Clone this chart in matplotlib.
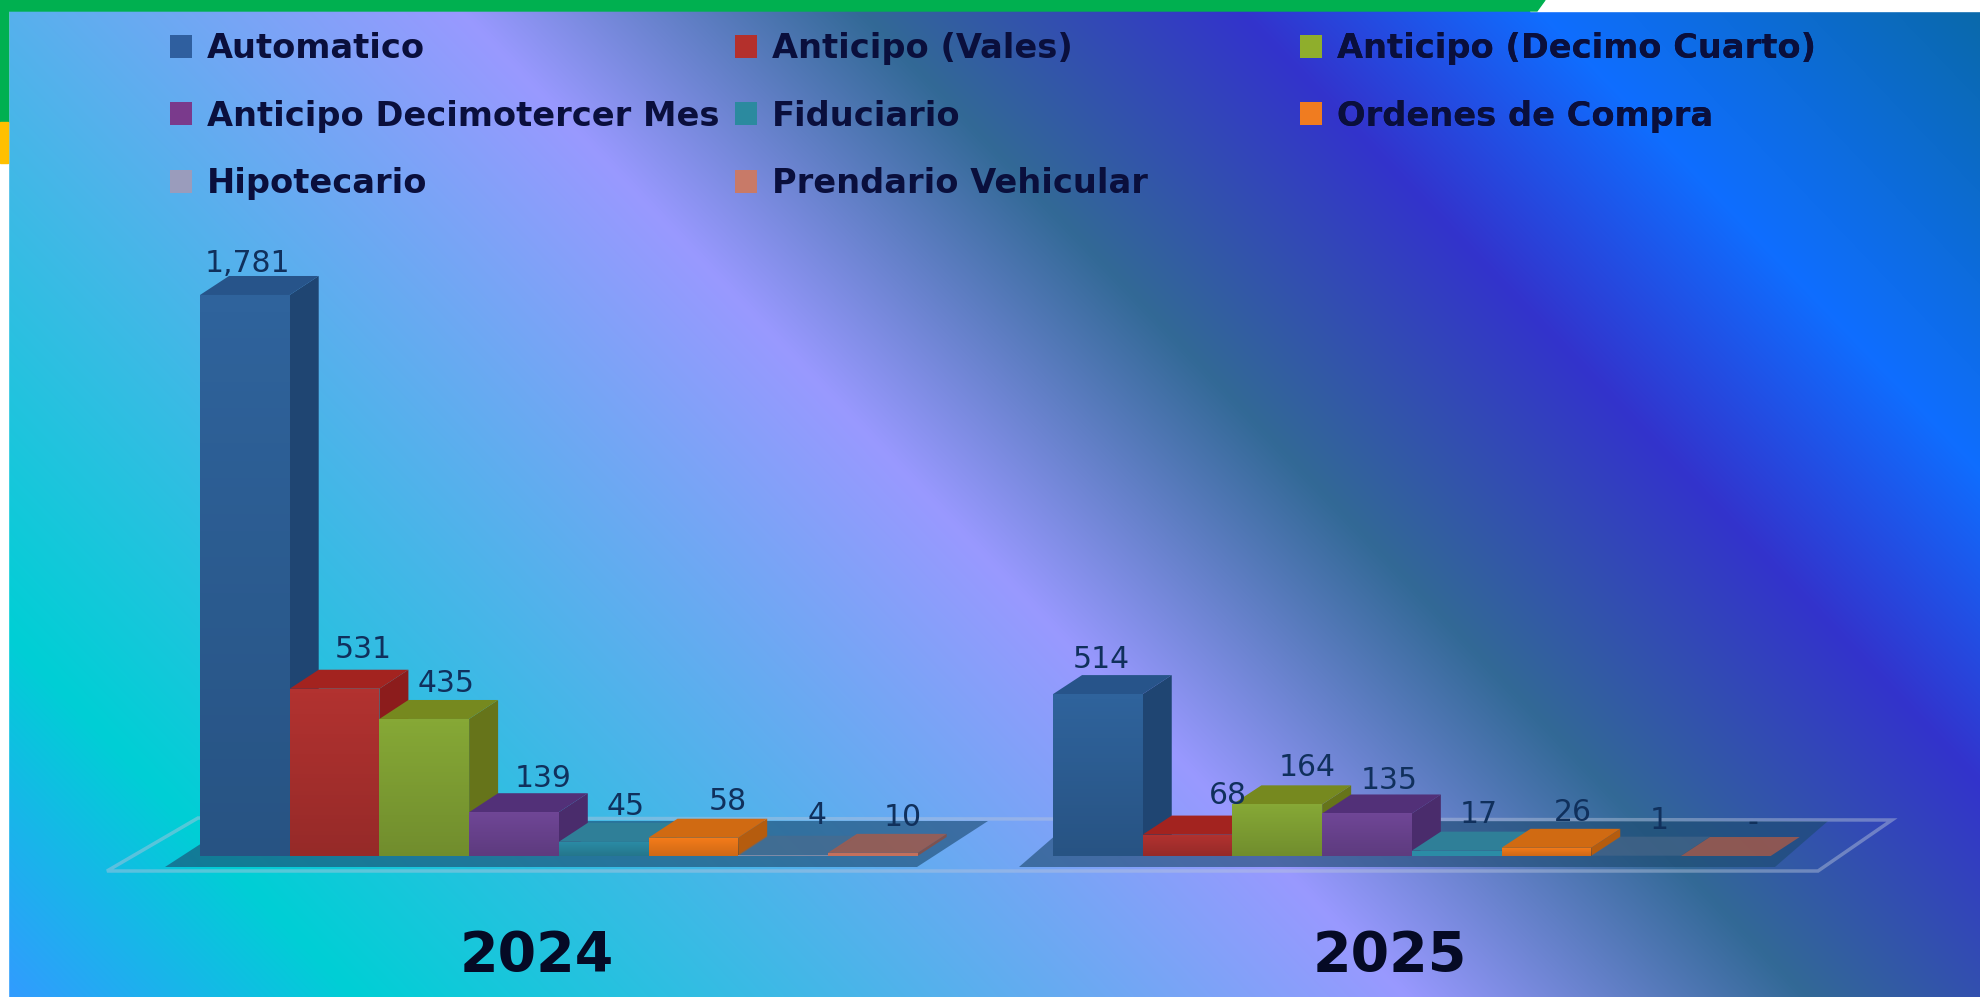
import numpy as np
import matplotlib
matplotlib.use("Agg")
import matplotlib.pyplot as plt
from matplotlib.patches import Polygon, Rectangle, Patch

# ---------- data ----------
years = ["2024", "2025"]
series = ["Automatico", "Anticipo (Vales)", "Anticipo (Decimo Cuarto)",
          "Anticipo Decimotercer Mes", "Fiduciario", "Ordenes de Compra",
          "Hipotecario", "Prendario Vehicular"]
values_2024 = [1781, 531, 435, 139, 45, 58, 4, 10]
values_2025 = [514, 68, 164, 135, 17, 26, 1, 0]

# ---------- style ----------
front = ["#2f639c", "#b23230", "#86a836", "#6f4696", "#2b8ca6", "#f57c1a", "#7f8aa6", "#c4705c"]
top = ["#27548a", "#a3231f", "#76891f", "#523078", "#2f7f98", "#d06a12", "#4f6a8a", "#a85a48"]
side = ["#1f4572", "#8c1c1c", "#66741a", "#4a2c6c", "#256f85", "#b55c0e", "#46607e", "#8f4c3c"]
legend_col = ["#2f5f9f", "#b4302c", "#8fae2c", "#7a3a8c", "#2b8a9f", "#f07c20", "#9a9cbc", "#c87a68"]
top_alpha = [1, 1, 1, 1, 1, 1, .55, .8]
label_dx = [[3, 29, 22, 29, 22, 34, 34, 30], [3, 40, 30, 22, 22, 26, 23, 27]]
label_dy = [[12, 20, 16, 15, 16, 17, 20, 16], [16, 20, 18, 14, 17, 16, 16, 14]]
floor_spans = [(165, 917, 71), (1019, 1775, 53)]
W, H = 1980, 997
PX_STEP, PX_UNIT = 89.7, 0.315
X0_PX, BASE_PX = 200, 856
AX_BOTTOM_PX = 885
GROUP_START = [0.0, 9.51]
DX, DY = 29 / PX_STEP, 19 / PX_UNIT


def xd(px):
    return (px - X0_PX) / PX_STEP


def yd(py):
    return (BASE_PX - py) / PX_UNIT


fig = plt.figure(figsize=(W / 100, H / 100), dpi=100)

# ---------- background ----------
bg = fig.add_axes([0, 0, 1, 1], zorder=0)
bg.set_xlim(0, W)
bg.set_ylim(H, 0)
bg.axis("off")
yy, xx = np.mgrid[0:H, 0:W]
t = xx - 0.96 * yy
stops = [-950, -600, 450, 850, 1230, 1530, 1970]
cols = np.array([(50, 155, 255), (0, 207, 213), (153, 153, 255), (50, 105, 150),
                 (51, 51, 204), (15, 110, 255), (10, 105, 170)]) / 255
img = np.dstack([np.interp(t, stops, cols[:, c]) for c in range(3)])
bg.imshow(img, extent=(0, W, H, 0), aspect="auto", zorder=0)
bg.add_patch(Rectangle((0, 0), 8, H, color="white", zorder=1))
bg.add_patch(Polygon([(1538, 0), (W, 0), (W, 11), (1530, 11)], color="white", zorder=1))
bg.add_patch(Polygon([(0, 0), (1545, 0), (1537, 11), (0, 11)], color="#00b050", zorder=2))
bg.add_patch(Rectangle((0, 0), 8, 122, color="#00b050", zorder=2))
bg.add_patch(Rectangle((0, 122), 8, 41, color="#ffc000", zorder=2))

# ---------- chart ----------
ax = fig.add_axes([0, 1 - AX_BOTTOM_PX / H, 1, AX_BOTTOM_PX / H], zorder=1)
ax.patch.set_alpha(0)
for s in ax.spines.values():
    s.set_visible(False)
ax.yaxis.set_visible(False)

# floor
for fl, fr, d in floor_spans:
    pts = [(xd(fl), yd(867)), (xd(fr), yd(867)),
           (xd(fr + d), yd(867 - 46)), (xd(fl + d), yd(867 - 46))]
    ax.add_patch(Polygon(pts, closed=True, facecolor="#1c4a70", alpha=.62, edgecolor="none", zorder=1))
ax.add_patch(Polygon([(xd(107), yd(871)), (xd(1818), yd(871)), (xd(1892), yd(820)), (xd(198), yd(818))],
                     closed=True, fill=False, edgecolor="#b8c4dc", alpha=.45, lw=2.5, zorder=1))

# bars
z = 2
for g, vals in enumerate([values_2024, values_2025]):
    for i, v in enumerate(vals):
        x0 = GROUP_START[g] + i
        x1 = x0 + 1
        h = float(v)
        ax.add_patch(Polygon([(x1, 0), (x1 + DX, DY), (x1 + DX, h + DY), (x1, h)],
                             closed=True, facecolor=side[i], edgecolor="none",
                             alpha=top_alpha[i], zorder=z))
        ax.add_patch(Polygon([(x0, h), (x1, h), (x1 + DX, h + DY), (x0 + DX, h + DY)],
                             closed=True, facecolor=top[i], edgecolor="none",
                             alpha=top_alpha[i], zorder=z + 0.1))
        ax.bar(x0 + 0.5, h, width=1, color=front[i], linewidth=0, zorder=z + 0.2)
        if h > 20:
            shade = np.zeros((64, 1, 4))
            shade[..., 3] = np.linspace(0, 0.16, 64)[:, None]
            ax.imshow(shade, extent=(x0, x1, 0, h), aspect="auto", origin="upper", zorder=z + 0.3)
        label = f"{v:,}" if v else "-"
        ax.annotate(label, (x0 + 0.5, h + DY), xytext=(label_dx[g][i] * .72, label_dy[g][i] * .72),
                    textcoords="offset points", ha="center", va="center",
                    fontsize=21.5, color="#10305c", zorder=50,
                    family="DejaVu Sans")
        z += 1

ax.set_xlim(xd(0), xd(W))
ax.set_ylim(yd(AX_BOTTOM_PX), yd(0))
ax.set_xticks([GROUP_START[g] + 3.75 for g in range(2)])
ax.set_xticklabels(years, fontsize=40, fontweight="bold", color="#050a25")
ax.tick_params(axis="x", length=0, pad=32)

# legend: three columns with their own fixed left edge
col_px = [170, 735, 1300]
col_members = [[0, 3, 6], [1, 4, 7], [2, 5]]
for cx, mem in zip(col_px, col_members):
    handles = [Patch(facecolor=legend_col[k], edgecolor="none", label=series[k]) for k in mem]
    leg = ax.legend(handles=handles, loc="upper left",
                    bbox_to_anchor=(cx / W, 1 - 32 / H), bbox_transform=fig.transFigure,
                    frameon=False, borderpad=0, borderaxespad=0,
                    prop={"family": "DejaVu Sans", "weight": "bold", "size": 24.2},
                    labelcolor="#0a0f3c", handlelength=.66, handleheight=.66,
                    handletextpad=.45, labelspacing=1.03)
    ax.add_artist(leg)

fig.savefig("out.png", dpi=100)
